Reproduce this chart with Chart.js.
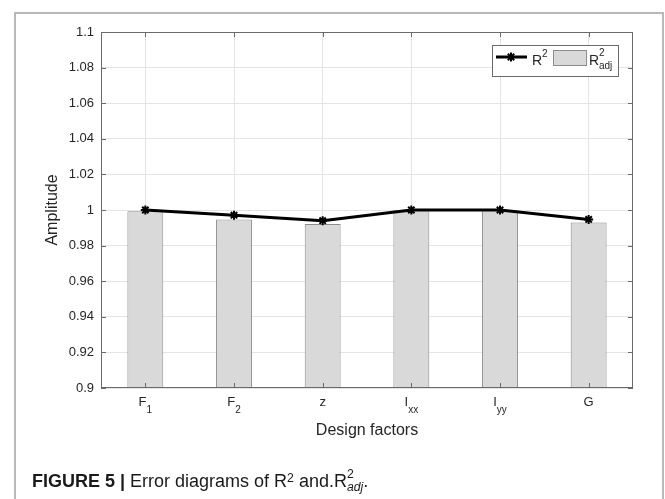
<!DOCTYPE html>
<html><head><meta charset="utf-8">
<script src="https://cdn.jsdelivr.net/npm/chart.js@4.4.1/dist/chart.umd.min.js"></script>
<style>
html,body{margin:0;padding:0;background:#fff;overflow:hidden;}
#wrap{position:relative;width:665px;height:499px;overflow:hidden;}
#frame{position:absolute;left:14px;top:12px;width:650px;height:540px;border:2px solid #b8b8b8;box-sizing:border-box;}
#c{position:absolute;left:0;top:0;}
#cap{position:absolute;left:32px;top:471px;font-family:'Liberation Sans',Arial,sans-serif;font-size:18px;line-height:20px;color:#1a1a1a;white-space:nowrap;}
.sup{position:relative;top:-0.45em;font-size:0.68em;}
.stack{position:relative;display:inline-block;}
.stack .s2{position:absolute;left:0;top:-7px;font-size:0.68em;font-style:normal;}
.stack .sa{position:relative;top:0.3em;font-size:0.68em;font-style:italic;}
</style></head><body>
<div id="wrap">
<div id="frame"></div>
<canvas id="c" width="665" height="499"></canvas>
<div id="cap"><b>FIGURE 5 |</b> Error diagrams of R<span class="sup">2</span> and.R<span class="stack"><span class="s2">2</span><span class="sa">adj</span></span>.</div>
</div>
<script>
// ---- data ----
const categories = ['F1', 'F2', 'z', 'Ixx', 'Iyy', 'G'];
const tickMain = ['F', 'F', 'z', 'I', 'I', 'G'];
const tickSub = ['1', '2', '', 'xx', 'yy', ''];
const r2 = [1.0, 0.9971, 0.9940, 1.0, 1.0, 0.9947];
const r2adj = [0.9993, 0.9947, 0.9921, 0.9999, 0.9999, 0.9930];
const yTicks = [0.9, 0.92, 0.94, 0.96, 0.98, 1.0, 1.02, 1.04, 1.06, 1.08, 1.1];
const xTitle = 'Design factors';
const yTitle = 'Amplitude';

const FONT = "'Liberation Sans', Arial, sans-serif";
const GRID = '#e4e4e4';
const AXIS = '#6a6a6a';
const TXT = '#262626';
const BAR_FILL = '#d9d9d9';
const BAR_EDGE = '#8c8c8c';

function drawStar(ctx, cx, cy, r) {
  ctx.beginPath();
  ctx.moveTo(cx - r, cy); ctx.lineTo(cx + r, cy);
  ctx.moveTo(cx, cy - r); ctx.lineTo(cx, cy + r);
  const d = r * Math.SQRT1_2;
  ctx.moveTo(cx - d, cy - d); ctx.lineTo(cx + d, cy + d);
  ctx.moveTo(cx - d, cy + d); ctx.lineTo(cx + d, cy - d);
  ctx.stroke();
}

const figPlugin = {
  id: 'fig',
  afterDraw(chart) {
    const { ctx, chartArea: a, scales: { x, y } } = chart;
    ctx.save();
    // axes box
    ctx.strokeStyle = AXIS; ctx.lineWidth = 1;
    ctx.strokeRect(Math.round(a.left) + 0.5, Math.round(a.top) + 0.5,
                   Math.round(a.right - a.left) - 1, Math.round(a.bottom - a.top) - 1);
    // inner ticks
    ctx.beginPath();
    yTicks.forEach(v => {
      const py = Math.round(y.getPixelForValue(v)) + 0.5;
      ctx.moveTo(a.left, py); ctx.lineTo(a.left + 5, py);
      ctx.moveTo(a.right, py); ctx.lineTo(a.right - 5, py);
    });
    categories.forEach((c, i) => {
      const px = Math.round(x.getPixelForValue(i)) + 0.5;
      ctx.moveTo(px, a.bottom); ctx.lineTo(px, a.bottom - 5);
      ctx.moveTo(px, a.top); ctx.lineTo(px, a.top + 5);
    });
    ctx.stroke();

    // x tick labels with subscripts
    ctx.fillStyle = TXT;
    ctx.textBaseline = 'alphabetic';
    ctx.textAlign = 'left';
    categories.forEach((c, i) => {
      const px = x.getPixelForValue(i);
      ctx.font = '13px ' + FONT;
      const wm = ctx.measureText(tickMain[i]).width;
      ctx.font = '10px ' + FONT;
      const ws = tickSub[i] ? ctx.measureText(tickSub[i]).width : 0;
      const sx = px - (wm + ws) / 2;
      ctx.font = '13px ' + FONT;
      ctx.fillText(tickMain[i], sx, a.bottom + 18);
      if (tickSub[i]) {
        ctx.font = '10px ' + FONT;
        ctx.fillText(tickSub[i], sx + wm, a.bottom + 25);
      }
    });

    // axis titles
    ctx.font = '16px ' + FONT;
    ctx.textAlign = 'center';
    ctx.textBaseline = 'alphabetic';
    ctx.fillText(xTitle, (a.left + a.right) / 2, a.bottom + 47);
    ctx.save();
    ctx.translate(57, (a.top + a.bottom) / 2);
    ctx.rotate(-Math.PI / 2);
    ctx.fillText(yTitle, 0, 0);
    ctx.restore();

    // legend
    const lx = 492, ly = 45, lw = 126, lh = 31;
    ctx.fillStyle = '#fff';
    ctx.fillRect(lx, ly, lw, lh);
    ctx.strokeStyle = AXIS; ctx.lineWidth = 1;
    ctx.strokeRect(lx + 0.5, ly + 0.5, lw, lh);
    ctx.strokeStyle = '#000'; ctx.lineWidth = 3;
    ctx.beginPath(); ctx.moveTo(496, 57); ctx.lineTo(527, 57); ctx.stroke();
    ctx.lineWidth = 2;
    drawStar(ctx, 511, 57, 4.5);
    ctx.fillStyle = TXT;
    ctx.textAlign = 'left';
    ctx.font = '14px ' + FONT;
    ctx.fillText('R', 532, 65);
    ctx.font = '10px ' + FONT;
    ctx.fillText('2', 542, 57);
    ctx.fillStyle = BAR_FILL;
    ctx.fillRect(553, 50, 33, 15);
    ctx.strokeStyle = BAR_EDGE; ctx.lineWidth = 1;
    ctx.strokeRect(553.5, 50.5, 33, 15);
    ctx.fillStyle = TXT;
    ctx.font = '14px ' + FONT;
    ctx.fillText('R', 589, 65);
    ctx.font = '10px ' + FONT;
    ctx.fillText('2', 599, 56);
    ctx.fillText('adj', 599, 69);
    ctx.restore();
  }
};

new Chart(document.getElementById('c'), {
  data: {
    labels: categories,
    datasets: [
      { type: 'line', label: 'R2', data: r2, borderColor: '#000', borderWidth: 3,
        pointStyle: 'star', pointRadius: 4.5, pointBorderWidth: 2,
        pointBorderColor: '#000', pointBackgroundColor: '#000', tension: 0, order: 0 },
      { type: 'bar', label: 'R2adj', data: r2adj, backgroundColor: BAR_FILL,
        borderColor: BAR_EDGE, borderWidth: 1, categoryPercentage: 1, barPercentage: 0.405, order: 1 }
    ]
  },
  options: {
    responsive: false, animation: false, devicePixelRatio: 1,
    layout: { padding: { left: 0, right: 32, top: 32, bottom: 0 } },
    plugins: { legend: { display: false }, tooltip: { enabled: false } },
    scales: {
      x: {
        grid: { offset: false, color: GRID, drawTicks: false },
        border: { display: false },
        ticks: { display: false },
        afterFit(s) { s.height = 111; }
      },
      y: {
        min: 0.9, max: 1.1,
        grid: { color: GRID, drawTicks: false },
        border: { display: false },
        afterBuildTicks(s) { s.ticks = yTicks.map(v => ({ value: v })); },
        ticks: { padding: 7, color: TXT, font: { family: FONT, size: 13 },
                 callback: v => parseFloat(v.toFixed(2)).toString() },
        afterFit(s) { s.width = 101; }
      }
    }
  },
  plugins: [figPlugin]
});
</script>
</body></html>
